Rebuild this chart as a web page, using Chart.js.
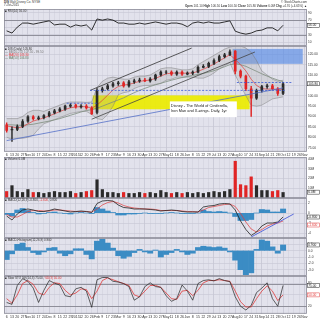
<!DOCTYPE html>
<html>
<head>
<meta charset="utf-8">
<script src="https://cdn.jsdelivr.net/npm/chart.js@4.4.0/dist/chart.umd.min.js"></script>
<style>
html, body { margin: 0; padding: 0; background: #fff; }
#wrap { position: relative; width: 320px; height: 320px; overflow: hidden; font-family: Arial, "Liberation Sans", sans-serif; }
#wrap canvas { position: absolute; left: 0; }
.t { position: absolute; font-size: 3px; line-height: 3px; color: #333; white-space: nowrap; }
</style>
</head>
<body>
<div id="wrap">
  <canvas id="rsiChart" width="320" height="37" style="top:9px"></canvas>
  <canvas id="priceChart" width="320" height="112" style="top:46px"></canvas>
  <canvas id="volChart" width="320" height="41" style="top:157px"></canvas>
  <canvas id="macdChart" width="320" height="40" style="top:198px"></canvas>
  <canvas id="histChart" width="320" height="38" style="top:238px"></canvas>
  <canvas id="stoChart" width="320" height="44" style="top:276px"></canvas>
</div>
<script>
// weekly labels, Oct 6 2014 -> Nov 2 2015
const weekLabels = ['6','13','20','27','Nov','10','17','24','Dec','8','15','22','29','2015','12','20','26',
  'Feb','9','17','23','Mar','9','16','23','30','Apr','13','20','27','May','11','18','26','Jun','8','15','22','29',
  'Jul','13','20','27','Aug','10','17','24','31','Sep','14','21','28','Oct','12','19','26','Nov'];

// price (weekly candles)
const opens = [86.0,83.5,83.8,85.2,87.8,89.8,89.0,89.4,90.4,91.8,
  92.7,93.6,95.0,95.5,94.6,95.0,94.1,92.0,102.5,103.4,
  104.8,105.8,106.2,104.8,106.7,107.2,107.6,107.2,108.1,110.0,
  111.4,111.4,110.4,111.4,110.4,110.9,111.4,113.7,114.2,115.6,
  117.0,118.9,119.8,121.5,111.9,109.5,103.4,98.8,102.5,104.4,
  104.8,103.4,101.1];
const highs = [87.0,85.0,86.0,88.5,90.5,90.5,90.2,91.0,92.5,93.5,
  94.3,95.5,96.2,96.0,95.8,95.8,94.8,103.5,104.2,105.5,
  106.5,107.0,106.8,107.5,108.0,108.5,108.4,108.8,110.5,112.0,
  112.2,112.0,112.0,112.0,111.6,112.0,114.5,115.0,116.3,117.8,
  119.6,120.5,122.1,121.8,112.5,110.0,104.5,103.2,105.0,105.6,
  105.5,104.0,106.5];
const lows = [82.5,78.0,83.2,84.6,87.2,88.2,88.4,88.8,89.8,91.2,
  92.2,93.0,94.4,94.0,94.0,93.6,91.0,91.2,101.8,102.8,
  104.2,105.0,104.2,104.2,106.0,106.5,106.8,106.6,107.4,109.5,
  110.6,109.8,109.8,109.8,110.0,110.2,111.0,113.4,113.6,115.0,
  116.4,118.2,119.3,110.5,108.6,102.5,90.0,98.2,101.8,103.6,
  102.8,100.2,100.5];
const closes = [83.3,83.8,85.2,87.6,89.9,89.0,89.4,90.4,91.8,92.7,
  93.6,95.0,95.5,94.6,95.0,94.1,91.3,102.5,103.4,104.8,
  105.8,106.2,104.8,106.7,107.2,107.6,107.2,108.1,110.0,111.4,
  111.4,110.4,111.4,110.4,110.9,111.4,113.7,114.2,115.6,117.0,
  118.9,119.8,121.2,111.9,109.5,103.4,98.8,102.5,104.4,104.8,
  103.4,101.1,105.8];

// overlays
const bbUpper = [89,89,89,90,92,93,93,92.5,93.5,94.5,
  95.5,96.5,97,97,97,96.8,97,104,107,108.5,
  109,108.5,108,108,109,109.5,109.5,110,111.5,113,
  113.5,113.5,113,112.5,112.5,113,115,116.5,118,119.5,
  121,122.5,123.5,124,124,123,121,117,112,110,
  108,107,107.5];
const bbLower = [80,79,79.5,79.5,80,81,84,86.5,87.5,88.5,
  89.5,90.5,91.5,92,92.5,92.5,91,89,88.5,91,
  95,100.5,101.5,102,103.5,104.5,105,105,105.5,106,
  107.5,108,109,109,109,109,108.5,108.5,109.5,111,
  113,114.5,116,110,105,100,95.5,95,95.5,97,
  98.5,99,99.5];
const ma20 = [85.5,85,84.5,85,86.5,87.8,88.6,89.3,90.3,91.3,
  92.4,93.4,94.2,94.6,94.8,94.7,94,95.5,97.8,100.3,
  102.8,104.5,105.2,105.5,106.2,107,107.3,107.6,108.4,109.5,
  110.6,110.9,111,110.9,110.9,111,111.8,112.8,114,115.3,
  116.8,118.3,119.8,117.5,115,112,108,105,103.5,103.2,
  103.3,103,103.3];
const ma50 = [86,86,85.8,85.8,86,86.3,86.8,87.3,87.8,88.4,
  89,89.8,90.6,91.4,92.2,92.9,93.3,94,95,96,
  97,98,99,100.3,101.5,102.6,103.6,104.5,105.3,106,
  106.8,107.5,108.2,108.8,109.3,109.8,110.3,110.8,111.4,112.1,
  113,114,115,115.4,115.0,114.2,113.0,111.8,110.6,109.5,
  108.5,107.6,106.8];

// volume, millions
const volume = [7,13,7,6,9,6,6,5,6,7,
  6,6,7,5,6,7,8,19,9,6,
  6,5,6,5,5,6,5,6,5,8,
  6,5,6,5,6,5,6,5,6,7,
  6,7,9,38,14,13,22,13,8,8,
  7,8,6];

// indicators
const rsi = [41,35,51,62,62,59,62,65,68,57,
  59,59,51,57,54,57,43,73,70,73,
  70,62,62,59,59,62,59,62,65,62,
  59,62,62,59,52,62,65,62,65,62,
  62,65,68,40,35,32,35,41,43,49,
  49,41,56];
const macd = [-0.6,-1.4,-0.2,0.6,0.8,0.6,0.3,0.3,0.5,0.8,
  0.6,0.4,0.2,0.3,0.4,0.3,0.1,1.9,2.4,2.5,
  2.4,1.6,1.1,1.0,0.8,0.8,0.8,0.7,0.6,0.4,
  0.5,0.6,0.5,0.3,0.2,0.2,0.2,1.2,1.4,1.5,
  1.8,1.9,1.8,0.6,-1.6,-3.3,-4.5,-3.8,-2.6,-2.0,
  -2.0,-1.8,-0.8];
const macdSignal = [-0.3,-0.8,-0.8,-0.3,0.3,0.5,0.5,0.4,0.4,0.6,
  0.6,0.5,0.4,0.3,0.3,0.3,0.2,0.8,1.6,2.1,
  2.3,2.0,1.5,1.2,1.0,0.9,0.8,0.8,0.7,0.5,
  0.5,0.5,0.5,0.4,0.3,0.3,0.2,0.6,1.1,1.3,
  1.5,1.7,1.8,1.3,-0.1,-1.8,-3.2,-3.8,-3.3,-2.6,
  -2.2,-2.0,-1.6];
const macdHist = [-0.3,-0.6,0.6,0.9,0.5,0.1,-0.2,-0.1,0.1,0.2,
  0,-0.1,-0.2,0,0.1,0,-0.1,1.1,0.8,0.4,
  0.1,-0.4,-0.4,-0.2,-0.2,-0.1,0,-0.1,-0.1,-0.1,
  0,0.1,0,-0.1,-0.1,-0.1,0,0.6,0.3,0.2,
  0.3,0.2,0,-0.7,-1.5,-1.5,-1.3,0,0.7,0.6,
  0.2,0.2,0.8];
const histBars = [-1.4,-0.5,1.0,1.2,0.5,-0.3,-0.6,-0.2,0.4,0.5,
  -0.4,-0.8,-0.5,0.3,0.3,-0.6,-1.3,1.5,1.8,1.2,
  0.4,-0.8,-1.2,-0.9,-0.3,0.2,-0.2,-0.4,0.1,-1.0,
  -0.6,-0.3,0.2,-0.2,-0.6,-0.4,0.5,0.7,0.6,0.5,
  0.6,0.4,-0.2,-1.5,-3.0,-3.8,-3.5,0.2,1.7,1.5,
  0.6,-0.4,0.9];
const stochK = [30,25,75,93,86,68,30,62,88,81,
  76,48,45,66,70,60,17,90,96,96,
  86,84,80,72,36,45,72,82,72,70,
  48,33,40,76,60,36,80,88,90,87,
  93,88,85,45,20,10,22,56,68,82,
  40,20,75];
const stochD = [40,28,50,80,88,78,55,50,70,82,
  80,62,50,55,66,64,40,60,88,95,
  90,85,80,75,50,45,60,75,75,70,
  55,40,38,60,62,48,62,82,88,88,
  90,88,86,60,32,18,18,40,60,74,
  60,35,50];

// chart drawings (week index, value)
const priceZones = [
  {from: 16.2, to: 45.7, low: 93.5, high: 100.2, color: 'rgba(236,236,0,0.92)'},
  {from: 42.5, to: 55.7, low: 115.4, high: 122.6, color: 'rgba(90,140,228,0.68)'}
];
const priceLines = [
  {from: [15.7, 102.6], to: [34.8, 123.0], color: '#333'},
  {from: [16.0, 88.7], to: [46.7, 121.1], color: '#444'},
  {from: [0, 78.4], to: [52, 103.8], color: '#5470c8'},
  {from: [11.3, 96.4], to: [17, 96.4], color: '#3a5bd6', dash: [2, 1.5]},
  {from: [15.7, 102.6], to: [52.4, 102.6], color: '#3a5bd6', dash: [2, 1.5]},
  {from: [43.3, 106.4], to: [53.6, 106.4], color: '#3a5bd6', dash: [2, 1.5]}
];
const priceNote = {from: 30.7, to: 43.3, high: 97.3, low: 89.7,
  lines: ['Disney - The World of Cinderella,', 'Iron Man and X-wings. Daily, 1yr']};
const macdLines = [{from: [46, -4.8], to: [54, -0.2], color: '#3a4fd8'}];

const candleColors = closes.map((c, i) => c >= opens[i] ? '#2a2a2a' : '#e02424');

function isMonth(label) {
  return isNaN(Number(label)) || Number(label) > 31;
}

// background + frame for each panel
const panelFrame = {
  id: 'panelFrame',
  beforeDraw(chart) {
    const {ctx, chartArea: a} = chart;
    ctx.save();
    ctx.fillStyle = '#e2e2ec';
    ctx.fillRect(a.left, a.top, a.right - a.left, a.bottom - a.top);
    ctx.restore();
  },
  afterDraw(chart) {
    const {ctx, chartArea: a} = chart;
    ctx.save();
    ctx.strokeStyle = '#8c8c98';
    ctx.lineWidth = 0.8;
    ctx.strokeRect(a.left + 0.5, a.top + 0.5, a.right - a.left - 1, a.bottom - a.top - 1);
    ctx.restore();
  }
};

// zones, levels, trend lines and notes
const marks = {
  id: 'marks',
  beforeDatasetsDraw(chart, args, opts) {
    const {ctx, chartArea: a, scales: {x, y}} = chart;
    ctx.save();
    ctx.beginPath();
    ctx.rect(a.left, a.top, a.right - a.left, a.bottom - a.top);
    ctx.clip();
    (opts.zones || []).forEach(z => {
      const x0 = x.getPixelForValue(z.from), x1 = x.getPixelForValue(z.to);
      const y0 = y.getPixelForValue(z.high), y1 = y.getPixelForValue(z.low);
      ctx.fillStyle = z.color;
      ctx.fillRect(x0, y0, x1 - x0, y1 - y0);
    });
    (opts.levels || []).forEach(v => {
      const py = Math.round(y.getPixelForValue(v)) + 0.5;
      ctx.strokeStyle = '#7c7c88';
      ctx.lineWidth = 0.8;
      ctx.beginPath();
      ctx.moveTo(a.left, py);
      ctx.lineTo(a.right, py);
      ctx.stroke();
    });
    ctx.restore();
  },
  afterDatasetsDraw(chart, args, opts) {
    const {ctx, chartArea: a, scales: {x, y}} = chart;
    ctx.save();
    ctx.beginPath();
    ctx.rect(a.left, a.top, a.right - a.left, a.bottom - a.top);
    ctx.clip();
    (opts.lines || []).forEach(l => {
      ctx.strokeStyle = l.color;
      ctx.lineWidth = 0.8;
      ctx.setLineDash(l.dash || []);
      ctx.beginPath();
      ctx.moveTo(x.getPixelForValue(l.from[0]), y.getPixelForValue(l.from[1]));
      ctx.lineTo(x.getPixelForValue(l.to[0]), y.getPixelForValue(l.to[1]));
      ctx.stroke();
    });
    ctx.setLineDash([]);
    const n = opts.note;
    if (n) {
      const x0 = x.getPixelForValue(n.from), x1 = x.getPixelForValue(n.to);
      const y0 = y.getPixelForValue(n.high), y1 = y.getPixelForValue(n.low);
      ctx.fillStyle = '#fff';
      ctx.fillRect(x0, y0, x1 - x0, y1 - y0);
      ctx.fillStyle = '#222';
      ctx.font = '3.9px Arial';
      ctx.textBaseline = 'top';
      n.lines.forEach((s, i) => ctx.fillText(s, x0 + 1, y0 + 2.5 + i * 5));
    }
    ctx.restore();
  },
  afterDraw(chart, args, opts) {
    // last-value tags on the right axis
    const {ctx, chartArea: a, scales: {y}} = chart;
    ctx.save();
    ctx.font = '3.2px Arial';
    ctx.textBaseline = 'middle';
    (opts.tags || []).forEach(t => {
      const py = y.getPixelForValue(t.value);
      ctx.fillStyle = '#fff';
      ctx.fillRect(a.right + 0.5, py - 2, 12, 4);
      ctx.strokeStyle = t.color;
      ctx.lineWidth = 0.5;
      ctx.strokeRect(a.right + 0.5, py - 2, 12, 4);
      ctx.fillStyle = t.color;
      ctx.fillText(t.text, a.right + 1.3, py + 0.2);
    });
    ctx.restore();
  }
};

Chart.register(panelFrame, marks);

function panelOptions(yMin, yMax, yTicks, fmt, showDates, marksOpts) {
  return {
    responsive: false,
    animation: false,
    devicePixelRatio: 1,
    layout: {padding: {left: 4, right: 0, top: 0, bottom: 0}},
    plugins: {legend: {display: false}, tooltip: {enabled: false}, marks: marksOpts || {}},
    scales: {
      x: {
        offset: true,
        border: {display: false},
        grid: {
          offset: false, drawTicks: false, lineWidth: 0.6,
          color: c => (c.tick && isMonth(c.tick.label)) ? '#bcbccb' : '#d2d2de'
        },
        ticks: {
          display: showDates, autoSkip: false, maxRotation: 0, minRotation: 0,
          padding: 1, color: '#333', font: {size: 3.5, family: 'Arial'}
        }
      },
      y: {
        position: 'right',
        min: yMin,
        max: yMax,
        afterBuildTicks: s => { s.ticks = yTicks.map(v => ({value: v})); },
        // fixed axis width, no extra room above/below the panel
        afterFit: s => { s.width = 13; s.paddingTop = 0; s.paddingBottom = 0; },
        border: {display: false},
        grid: {drawTicks: false, color: '#c6c6d4', lineWidth: 0.6},
        ticks: {padding: 1, color: '#333', font: {size: 3.2, family: 'Arial'}, callback: fmt}
      }
    }
  };
}

function lineSet(data, color, width, order) {
  return {type: 'line', data, borderColor: color, borderWidth: width, pointRadius: 0, tension: 0, fill: false, order};
}

const last = closes.length - 1;

// RSI panel
new Chart(document.getElementById('rsiChart'), {
  type: 'line',
  data: {labels: weekLabels, datasets: [lineSet(rsi, '#1a1a1a', 0.9, 1)]},
  options: panelOptions(0, 100, [10, 30, 50, 70, 90], v => v, false, {
    levels: [70, 30],
    tags: [{value: rsi[last], text: rsi[last].toFixed(2), color: '#222'}]
  })
});

// price panel
new Chart(document.getElementById('priceChart'), {
  type: 'bar',
  data: {
    labels: weekLabels,
    datasets: [
      {type: 'line', data: bbUpper, borderColor: 'rgba(120,120,120,0.8)', borderWidth: 0.6, pointRadius: 0,
        fill: '+1', backgroundColor: 'rgba(160,160,160,0.24)', order: 10},
      {type: 'line', data: bbLower, borderColor: 'rgba(120,120,120,0.8)', borderWidth: 0.6, pointRadius: 0,
        fill: false, order: 10},
      lineSet(ma50, '#7d8d7d', 0.8, 6),
      lineSet(ma20, '#e03a3a', 0.7, 5),
      {data: lows.map((l, i) => [l, highs[i]]), backgroundColor: candleColors, barThickness: 0.8, grouped: false, order: 3},
      {data: opens.map((o, i) => [o, closes[i]]), backgroundColor: candleColors, barThickness: 2, grouped: false, order: 2}
    ]
  },
  options: panelOptions(73, 124, [75, 80, 85, 90, 95, 100, 105, 110, 115, 120], v => v.toFixed(2), true, {
    zones: priceZones,
    lines: priceLines,
    note: priceNote,
    tags: [{value: closes[last], text: closes[last].toFixed(2), color: '#222'}]
  })
});

// volume panel
new Chart(document.getElementById('volChart'), {
  type: 'bar',
  data: {labels: weekLabels, datasets: [{data: volume, backgroundColor: candleColors, barPercentage: 0.6, categoryPercentage: 1}]},
  options: panelOptions(0, 42, [10, 20, 30, 40], v => v + 'M', false, {
    tags: [{value: volume[last], text: volume[last].toFixed(1) + 'M', color: '#222'}]
  })
});

// MACD panel
new Chart(document.getElementById('macdChart'), {
  type: 'bar',
  data: {
    labels: weekLabels,
    datasets: [
      {data: macdHist, backgroundColor: '#3b8cc4', barPercentage: 1, categoryPercentage: 1, order: 3},
      lineSet(macdSignal, '#e03a3a', 0.7, 2),
      lineSet(macd, '#222', 0.8, 1)
    ]
  },
  options: panelOptions(-5, 3, [2, 0, -2, -4], v => v, false, {
    lines: macdLines,
    tags: [
      {value: macd[last], text: macd[last].toFixed(3), color: '#222'},
      {value: macdSignal[last] - 0.8, text: macdSignal[last].toFixed(3), color: '#e03a3a'}
    ]
  })
});

// histogram panel
new Chart(document.getElementById('histChart'), {
  type: 'bar',
  data: {labels: weekLabels, datasets: [{data: histBars, backgroundColor: '#3b8cc4', barPercentage: 1, categoryPercentage: 1}]},
  options: panelOptions(-4, 2, [1, 0, -1, -2, -3], v => v.toFixed(1), false, {
    tags: [{value: histBars[last], text: histBars[last].toFixed(3), color: '#222'}]
  })
});

// slow stochastic panel
new Chart(document.getElementById('stoChart'), {
  type: 'line',
  data: {labels: weekLabels, datasets: [lineSet(stochD, '#e03a3a', 0.8, 2), lineSet(stochK, '#222', 0.7, 1)]},
  options: panelOptions(0, 100, [20, 50, 80], v => v, true, {
    levels: [80, 20],
    tags: [
      {value: stochK[last], text: stochK[last].toFixed(2), color: '#222'},
      {value: stochD[last], text: stochD[last].toFixed(2), color: '#e03a3a'}
    ]
  })
});

// texts
function addText(html, top, left, right, color) {
  const d = document.createElement('div');
  d.className = 't';
  d.innerHTML = html;
  d.style.top = top + 'px';
  if (left != null) d.style.left = left + 'px';
  if (right != null) d.style.right = right + 'px';
  if (color) d.style.color = color;
  document.getElementById('wrap').appendChild(d);
}
const chg = closes[last] - closes[last - 1];
addText('<b>DIS</b> Walt Disney Co. NYSE', 0.5, 4);
addText('7-Oct-2015', 4, 4);
addText('© StockCharts.com', 0.5, null, 13);
addText('<b>Open</b> ' + opens[last].toFixed(2) + ' <b>High</b> ' + highs[last].toFixed(2) + ' <b>Low</b> ' + lows[last].toFixed(2) +
  ' <b>Close</b> ' + closes[last].toFixed(2) + ' <b>Volume</b> ' + volume[last].toFixed(1) + 'M <b>Chg</b> +' + chg.toFixed(2) +
  ' (+' + (chg / closes[last - 1] * 100).toFixed(2) + '%) ▲', 4.5, null, 13);
addText('■ RSI(14) ' + rsi[last].toFixed(2), 10, 5);
addText('■ DIS (Daily) ' + closes[last].toFixed(2), 47.5, 5);
addText('— BB(20,2.0) ' + bbUpper[last].toFixed(2) + ' - ' + bbLower[last].toFixed(2), 50.5, 5, null, '#777');
addText('— MA(20) ' + ma20[last].toFixed(2), 53.5, 5, null, '#e03a3a');
addText('— MA(50) ' + ma50[last].toFixed(2), 56.5, 5, null, '#5f7a5f');
addText('■ Volume ' + volume[last].toFixed(1) + 'M', 158, 5);
addText('■ MACD(12,26,9) ' + macd[last].toFixed(3) + ', <span style="color:#e03a3a">' + macdSignal[last].toFixed(3) +
  '</span>, ' + macdHist[last].toFixed(3), 199, 5);
addText('■ MACD-Histogram(12,26,9) ' + histBars[last].toFixed(3), 239, 5);
addText('■ Slow STO %K(14,3) ' + stochK[last].toFixed(2) + ', <span style="color:#e03a3a">%D(3) ' +
  stochD[last].toFixed(2) + '</span>', 277, 5);
</script>
</body>
</html>
